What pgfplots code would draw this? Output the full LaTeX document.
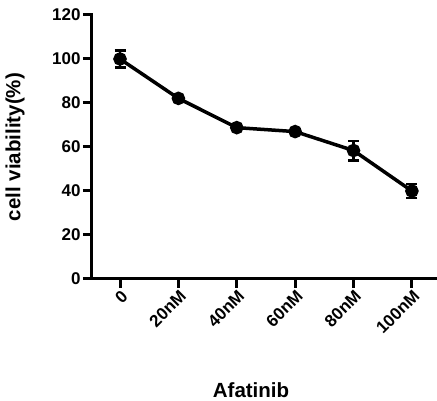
\documentclass[border=0pt]{standalone}
\usepackage{fontspec}
\setmainfont{Liberation Sans}
\usepackage{pgfplots}
\pgfplotsset{compat=1.18}
\begin{document}
\begin{tikzpicture}
\begin{axis}[
  scale only axis, width=345pt, height=264pt,
  xmin=-0.48, xmax=5.43, ymin=0, ymax=120,
  axis x line*=bottom, axis y line*=left,
  axis line style={line width=3pt, line cap=rect},
  xtick={0,1,2,3,4,5},
  xticklabels={0,20nM,40nM,60nM,80nM,100nM},
  ytick={0,20,40,60,80,100,120},
  tick style={line width=3pt, black},
  tick align=outside, major tick length=9pt,
  /pgf/number format/assume math mode=true,
  ticklabel style={font=\bfseries\fontsize{17}{17}\selectfont},
  xticklabel style={rotate=45, anchor=east, xshift=3pt, yshift=-7pt},
  yticklabel style={xshift=1pt},
  xlabel={Afatinib},
  ylabel={cell viability(\%)},
  label style={font=\bfseries\fontsize{20.5}{20.5}\selectfont},
  xlabel style={at={(axis description cs:0.461,-0.42)}, anchor=center},
  ylabel style={at={(axis description cs:-0.223,0.5)}, anchor=center},
  clip=false,
]
\addplot[black, line width=3.5pt, mark=*, mark size=5pt,
  mark options={solid},
  error bars/.cd, y dir=both, y explicit,
  error bar style={line width=2.2pt},
  error mark options={rotate=90, mark size=5.5pt, line width=2.2pt}]
  coordinates {
  (0,100) +- (0,3.9)
  (1,82.1) +- (0,1.0)
  (2,68.8) +- (0,1.0)
  (3,67.0) +- (0,1.0)
  (4,58.4) +- (0,4.5)
  (5,40.0) +- (0,3.3)
  };
\coordinate (O) at (rel axis cs:0,0);
\end{axis}
\pgfresetboundingbox
\path[use as bounding box] ([xshift=-92pt,yshift=-122pt]O) rectangle ++(437pt,401pt);
\end{tikzpicture}
\end{document}
